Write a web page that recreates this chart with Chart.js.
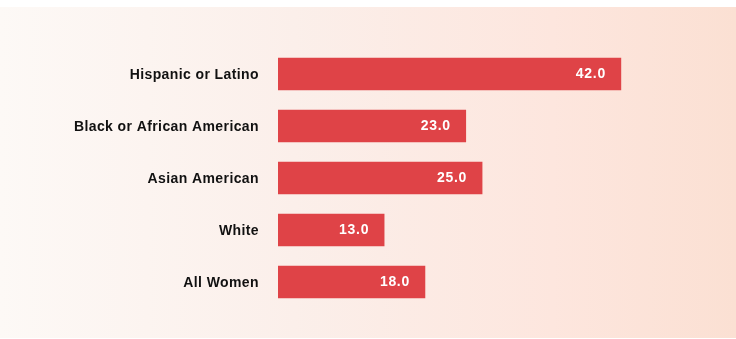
<!DOCTYPE html>
<html lang="en">
<head>
    <meta charset="UTF-8">
    <title>Women by group</title>
    <script src="https://cdn.jsdelivr.net/npm/chart.js"></script>
    <style>
        html, body { margin: 0; padding: 0; background: #ffffff; }
        .wrap {
            position: absolute;
            left: 0; top: 7px;
            width: 736px; height: 331px;
            background: linear-gradient(to right, #fdf9f6 0%, #fbefea 40%, #fde6de 75%, #fbe0d3 100%);
        }
        canvas { position: absolute; left: 0; top: -7px; }
    </style>
</head>
<body>
    <div class="wrap">
        <canvas id="chart" width="736" height="339"></canvas>
    </div>

    <script>
        // categories and values
        const groups = ['Hispanic or Latino', 'Black or African American', 'Asian American', 'White', 'All Women'];
        const values = [42.0, 23.0, 25.0, 13.0, 18.0];

        const barColor = '#df4347';

        // the source font is set with a little extra tracking
        const tracking = {
            id: 'tracking',
            beforeDraw(chart) {
                chart.ctx.letterSpacing = '0.4px';
            }
        };

        // writes the value inside the right end of each bar
        const valueLabels = {
            id: 'valueLabels',
            afterDatasetsDraw(chart) {
                const ctx = chart.ctx;
                const meta = chart.getDatasetMeta(0);
                ctx.save();
                ctx.letterSpacing = '0.7px';
                ctx.font = 'bold 14px "Liberation Sans", Arial, sans-serif';
                ctx.fillStyle = '#ffffff';
                ctx.textAlign = 'right';
                ctx.textBaseline = 'middle';
                meta.data.forEach((bar, i) => {
                    ctx.fillText(values[i].toFixed(1), bar.x - 15, bar.y + 0.5);
                });
                ctx.restore();
            }
        };

        const ctx = document.getElementById('chart').getContext('2d');
        new Chart(ctx, {
            type: 'bar',
            data: {
                labels: groups,
                datasets: [{
                    data: values,
                    backgroundColor: barColor,
                    borderWidth: 0,
                    barThickness: 32
                }]
            },
            options: {
                indexAxis: 'y',
                responsive: false,
                animation: false,
                layout: { padding: { left: 0, right: 9, top: 48, bottom: 31 } },
                plugins: {
                    legend: { display: false },
                    tooltip: { enabled: false }
                },
                scales: {
                    x: {
                        display: false,
                        min: 0,
                        max: 55
                    },
                    y: {
                        grid: { display: false, drawTicks: false },
                        border: { display: false },
                        ticks: {
                            padding: 19,
                            labelOffset: 1,
                            color: '#111111',
                            font: { family: '"Liberation Sans", Arial, sans-serif', size: 14, weight: 'bold' }
                        },
                        afterFit(scale) { scale.width = 278; }
                    }
                }
            },
            plugins: [tracking, valueLabels]
        });
    </script>
</body>
</html>
